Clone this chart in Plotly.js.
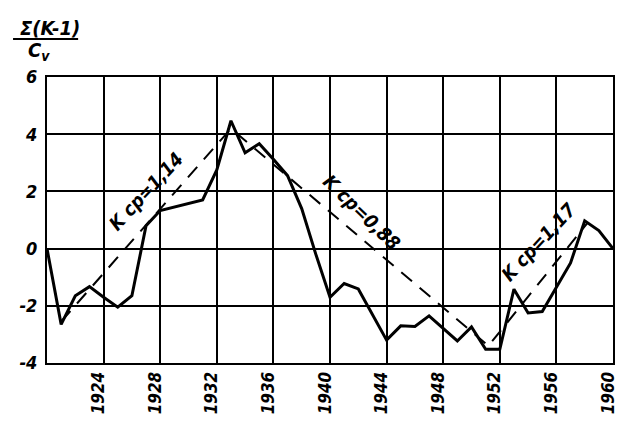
<!DOCTYPE html>
<html>
<head>
<meta charset="utf-8">
<script src="https://cdn.plot.ly/plotly-3.0.1.min.js"></script>
<style>html,body{margin:0;padding:0;background:#fff;}#chart{width:619px;height:423px;}</style>
</head>
<body>
<div id="chart"></div>
<script>
const years = [1920,1921,1922,1923,1924,1925,1926,1927,1928,1929,1930,1931,1932,1933,1934,1935,1936,1937,1938,1939,1940,1941,1942,1943,1944,1945,1946,1947,1948,1949,1950,1951,1952,1953,1954,1955,1956,1957,1958,1959,1960];
const cumValues = [0,-2.65,-1.65,-1.33,-1.7,-2.05,-1.65,0.8,1.33,1.45,1.57,1.7,2.75,4.47,3.35,3.67,3.12,2.55,1.4,-0.2,-1.7,-1.22,-1.41,-2.3,-3.2,-2.7,-2.72,-2.35,-2.78,-3.23,-2.74,-3.52,-3.52,-1.42,-2.25,-2.2,-1.35,-0.5,0.97,0.63,0];
const trendX = [1921,1933,1951.2,1958.2];
const trendY = [-2.55,4.2,-3.4,0.9];
const trendLabels = ["K cp=1,14","K cp=0,88","K cp=1,17"];
const trendLabelX = [1927.0,1942.25,1954.7];
const trendLabelY = [2.0,1.28,0.24];
const trendLabelAngle = [-47,44,-47];
const xTicks = [1924,1928,1932,1936,1940,1944,1948,1952,1956,1960];
const yTicks = [-4,-2,0,2,4,6];

const fontFam = "DejaVu Sans Condensed, DejaVu Sans, sans-serif";
const traces = [
  {x: trendX, y: trendY, mode:'lines', line:{color:'#000', width:2, dash:'14px,10px'}, hoverinfo:'skip', showlegend:false},
  {x: years, y: cumValues, mode:'lines', line:{color:'#000', width:3}, showlegend:false}
];
const annotations = trendLabels.map((t,i)=>({
  x: trendLabelX[i], y: trendLabelY[i], xref:'x', yref:'y', text: t, showarrow:false,
  xanchor:'center', yanchor:'middle',
  textangle: trendLabelAngle[i], font:{family:fontFam, size:19, color:'#000', style:'italic', weight:'bold'}
}));
annotations.push({xref:'paper', yref:'paper', x:0.005, y:1.172, xanchor:'center', yanchor:'middle', text:'Σ(K-1)', showarrow:false,
  font:{family:fontFam, size:20, color:'#000', style:'italic', weight:'bold'}});
annotations.push({xref:'paper', yref:'paper', x:-0.015, y:1.09, xanchor:'center', yanchor:'middle', text:'C<sub>v</sub>', showarrow:false,
  font:{family:fontFam, size:20, color:'#000', style:'italic', weight:'bold'}});

const layout = {
  width:619, height:423,
  margin:{l:47, r:6, t:77, b:60},
  paper_bgcolor:'#fff', plot_bgcolor:'#fff',
  font:{family:fontFam, color:'#000'},
  xaxis:{range:[1920,1960], tickvals:xTicks, ticktext:xTicks.map(String), tickangle:-90,
    showgrid:true, gridcolor:'#000', gridwidth:2, zeroline:false, showline:true, linecolor:'#000', linewidth:2, mirror:true,
    ticks:'', ticklabelshift:-5, ticklabeloverflow:'allow', tickfont:{family:fontFam, size:17, style:'italic', weight:'bold', color:'#000'}},
  yaxis:{range:[-4,6], tickvals:yTicks, ticktext:yTicks.map(v=>v<0?'-'+Math.abs(v):String(v)),
    showgrid:true, gridcolor:'#000', gridwidth:2, zeroline:false, showline:true, linecolor:'#000', linewidth:2, mirror:true,
    ticks:'', ticklabelstandoff:4, ticklabeloverflow:'allow', tickfont:{family:fontFam, size:18, style:'italic', weight:'bold', color:'#000'}},
  annotations: annotations,
  shapes:[{type:'line', xref:'paper', yref:'paper', x0:-0.06, x1:0.055, y0:1.133, y1:1.133, line:{color:'#000', width:2}}]
};
Plotly.newPlot('chart', traces, layout, {staticPlot:true, displayModeBar:false});
</script>
</body>
</html>
